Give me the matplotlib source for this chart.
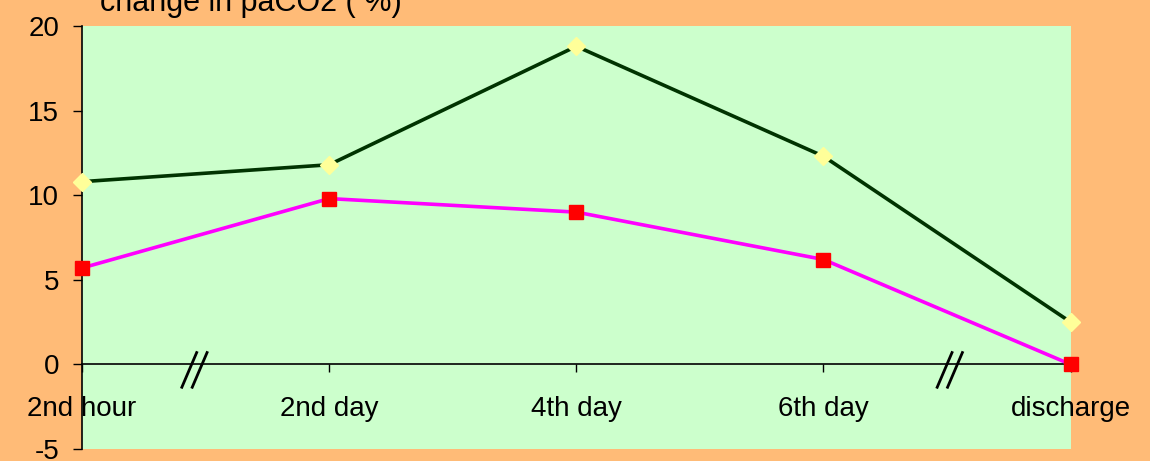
import numpy as np
import matplotlib.pyplot as plt

plt.rcParams['font.family'] = ['Liberation Sans', 'DejaVu Sans']
plt.rcParams['axes.unicode_minus'] = False

# Data
stages = ["2nd hour", "2nd day", "4th day", "6th day", "discharge"]
series_a = [10.8, 11.8, 18.8, 12.3, 2.5]   # dark green line, yellow diamonds
series_b = [5.7, 9.8, 9.0, 6.2, 0.0]       # magenta line, red squares
y_ticks = [-5, 0, 5, 10, 15, 20]

fig = plt.figure(figsize=(11.5, 4.61), dpi=100, facecolor='#FFBB77')
ax = fig.add_axes([0.0713, 0.026, 0.8597, 0.9176])
ax.set_facecolor('#CCFFCC')

x = np.arange(len(stages))
ax.plot(x, series_a, color='#003300', lw=2.6, marker='D', ms=9.5,
        mfc='#FFFF99', mec='#FFFF99', clip_on=False, zorder=4)
ax.plot(x, series_b, color='#FF00FF', lw=2.6, marker='s', ms=10,
        mfc='#FF0000', mec='#FF0000', clip_on=False, zorder=4)

ax.set_xlim(0, len(stages) - 1)
ax.set_ylim(-5, 20)

# y axis
ax.set_yticks(y_ticks)
ax.tick_params(axis='y', direction='out', length=6.5, width=1, pad=10,
               labelsize=20, colors='black')

# x axis drawn at y=0
ax.spines['bottom'].set_position(('data', 0))
ax.spines['top'].set_visible(False)
ax.spines['right'].set_visible(False)
ax.spines['left'].set_linewidth(1.2)
ax.spines['bottom'].set_linewidth(1.2)
ax.set_xticks(x)
ax.set_xticklabels(stages)
ax.tick_params(axis='x', direction='out', length=6, width=1, pad=17,
               labelsize=20)

# axis break marks "//"
for xb in [0.434, 3.49]:
    for dx in [0.0, 0.042]:
        ax.plot([xb - 0.03 + dx, xb + 0.03 + dx], [-1.35, 0.7],
                color='black', lw=2, zorder=5)

fig.text(0.087, 0.976, "change in paCO2 ( %)", fontsize=22, ha='left',
         va='baseline')

fig.savefig('out.png', dpi=100, facecolor=fig.get_facecolor())
